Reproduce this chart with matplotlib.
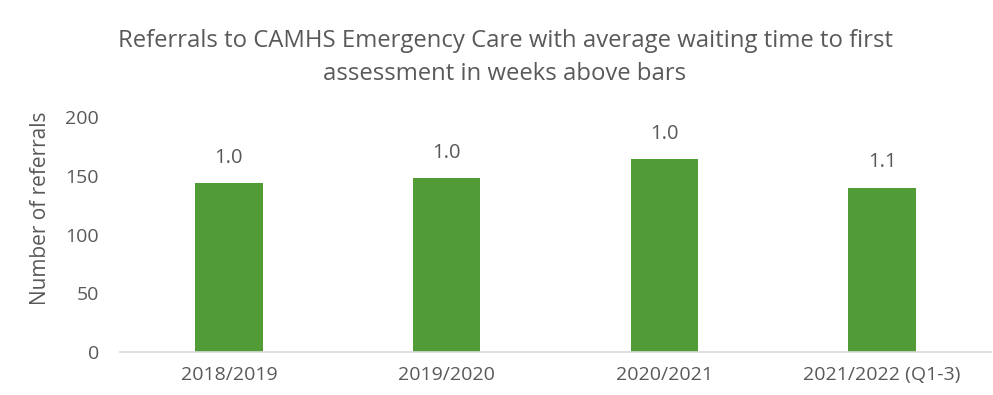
import matplotlib
matplotlib.use("Agg")
import matplotlib.pyplot as plt

# Referral counts per financial year and the average wait (weeks) shown above each bar
years = ["2018/2019", "2019/2020", "2020/2021", "2021/2022 (Q1-3)"]
referrals = [144, 148, 164, 140]
wait_weeks = [1.0, 1.0, 1.0, 1.1]
y_ticks = [0, 50, 100, 150, 200]

plt.rcParams["font.family"] = ["Open Sans", "DejaVu Sans"]
text_col = "#595959"
bar_col = "#529c38"

fig = plt.figure(figsize=(9.93, 3.95), dpi=100)
ax = fig.add_axes([120 / 993, 43 / 395, 871 / 993, 235 / 395])

x = range(len(years))
bars = ax.bar(x, referrals, width=0.31, color=bar_col, zorder=2)
for xi, h, w in zip(x, referrals, wait_weeks):
    ax.annotate(f"{w:.1f}", (xi, h), xytext=(0, 11), textcoords="offset points",
                ha="center", va="bottom", fontsize=14.5, color=text_col)

ax.set_xlim(-0.5, len(years) - 0.5)
ax.set_ylim(0, 200)
ax.set_yticks(y_ticks)
ax.set_xticks(list(x))
ax.set_xticklabels(years)
ax.tick_params(axis="both", length=0, labelsize=14, colors=text_col)
ax.tick_params(axis="x", pad=10)
ax.tick_params(axis="y", pad=15)
for side in ["top", "right", "left"]:
    ax.spines[side].set_visible(False)
ax.spines["bottom"].set_color("#d9d9d9")
ax.spines["bottom"].set_linewidth(1.2)

ax.set_ylabel("Number of referrals", fontsize=15, color=text_col)
ax.yaxis.set_label_coords(-0.079, 0.61)

fig.text(505 / 993, 1 - 41 / 395,
         "Referrals to CAMHS Emergency Care with average waiting time to first",
         ha="center", va="center", fontsize=17.2, color=text_col)
fig.text(505 / 993, 1 - 74 / 395, "assessment in weeks above bars",
         ha="center", va="center", fontsize=17.2, color=text_col)

fig.savefig("out.png", dpi=100)
